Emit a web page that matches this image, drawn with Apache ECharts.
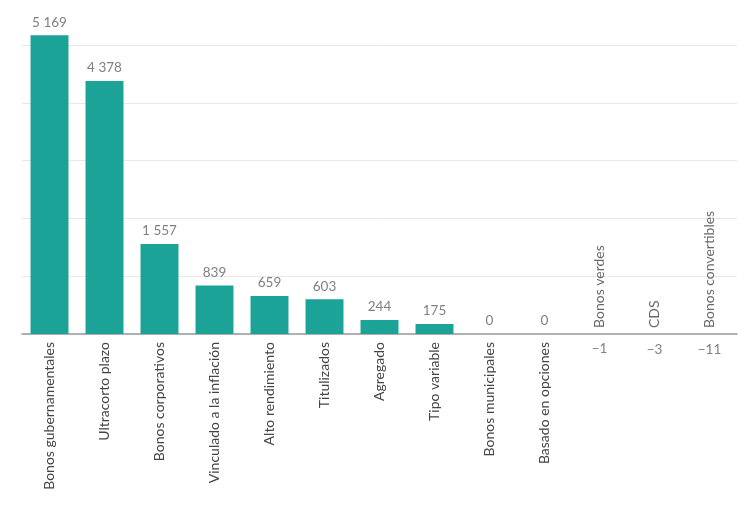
<!DOCTYPE html>
<html>
<head>
<meta charset="utf-8">
<script src="https://cdn.jsdelivr.net/npm/echarts@6/dist/echarts.min.js"></script>
<style>
  html, body { margin: 0; padding: 0; background: #fff; }
  #chart { width: 751px; height: 511px; }
</style>
</head>
<body>
<div id="chart"></div>
<script>
var categories = [
  'Bonos gubernamentales', 'Ultracorto plazo', 'Bonos corporativos',
  'Vinculado a la inflación', 'Alto rendimiento', 'Titulizados', 'Agregado',
  'Tipo variable', 'Bonos municipales', 'Basado en opciones',
  'Bonos verdes', 'CDS', 'Bonos convertibles'
];
var values = [5169, 4378, 1557, 839, 659, 603, 244, 175, 0, 0, -1, -3, -11];
var yTicks = [0, 1000, 2000, 3000, 4000, 5000];

var barColor = '#1ca398';
var font = 'Lato';

function fmt(v) {
  var s = String(Math.abs(v)).replace(/\B(?=(\d{3})+(?!\d))/g, ' ');
  return v < 0 ? '\u2212' + s : s;
}

// negative categories carry their name above the axis instead of below
var barData = values.map(function (v) {
  return v < 0
    ? { value: v, itemStyle: { color: 'rgba(0,0,0,0)' }, label: { position: 'bottom', distance: 8 } }
    : v;
});
var nameMarks = values.map(function (v) { return v < 0 ? 0 : null; });

var option = {
  animation: false,
  grid: { left: 22, right: 14, top: 45, bottom: 177 },
  xAxis: {
    type: 'category',
    data: categories,
    axisTick: { show: false },
    axisLine: { lineStyle: { color: '#9a9a9a', width: 1.5 } },
    axisLabel: {
      rotate: 90,
      margin: 8,
      interval: 0,
      color: '#444',
      fontFamily: font,
      fontSize: 14,
      formatter: function (name, i) { return values[i] < 0 ? '' : name; }
    }
  },
  yAxis: {
    type: 'value',
    min: yTicks[0],
    max: yTicks[yTicks.length - 1],
    interval: 1000,
    axisLabel: { show: false },
    axisLine: { show: false },
    axisTick: { show: false },
    splitLine: { lineStyle: { color: '#e8e8e8' } }
  },
  series: [
    {
      type: 'bar',
      data: barData,
      barCategoryGap: '31%',
      clip: false,
      itemStyle: { color: barColor },
      label: {
        show: true,
        position: 'top',
        distance: 6,
        color: '#808080',
        fontFamily: font,
        fontSize: 13.5,
        formatter: function (p) { return fmt(p.value); }
      }
    },
    {
      type: 'scatter',
      data: nameMarks,
      symbolSize: 0,
      silent: true,
      label: {
        show: true,
        position: 'top',
        distance: 6,
        rotate: 90,
        align: 'left',
        verticalAlign: 'middle',
        color: '#444',
        fontFamily: font,
        fontSize: 14,
        formatter: function (p) { return categories[p.dataIndex]; }
      }
    }
  ]
};

var chart = echarts.init(document.getElementById('chart'));
chart.setOption(option);
</script>
</body>
</html>
